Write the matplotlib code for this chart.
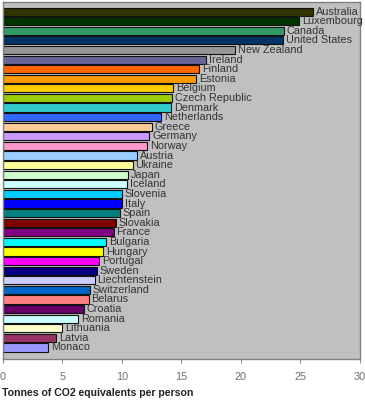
import matplotlib
matplotlib.use("Agg")
import matplotlib.pyplot as plt

countries = ["Australia", "Luxembourg", "Canada", "United States", "New Zealand",
             "Ireland", "Finland", "Estonia", "Belgium", "Czech Republic", "Denmark",
             "Netherlands", "Greece", "Germany", "Norway", "Austria", "Ukraine", "Japan",
             "Iceland", "Slovenia", "Italy", "Spain", "Slovakia", "France", "Bulgaria",
             "Hungary", "Portugal", "Sweden", "Liechtenstein", "Switzerland", "Belarus",
             "Croatia", "Romania", "Lithuania", "Latvia", "Monaco"]
values = [26.1, 24.9, 23.6, 23.5, 19.5, 17.1, 16.5, 16.2, 14.3, 14.2, 14.1, 13.3,
          12.5, 12.3, 12.1, 11.3, 10.9, 10.5, 10.4, 10.0, 10.0, 9.8, 9.5, 9.3, 8.7,
          8.4, 8.1, 7.9, 7.7, 7.3, 7.2, 6.8, 6.3, 5.0, 4.5, 3.8]
colors = ["#333300", "#003300", "#339966", "#003366", "#969696", "#666699", "#FF6600",
          "#FF9900", "#FFCC00", "#99CC00", "#33CCCC", "#3366FF", "#FFCC99", "#CC99FF",
          "#FF99CC", "#99CCFF", "#FFFF99", "#CCFFCC", "#CCFFFF", "#00CCFF", "#0000FF",
          "#008080", "#800000", "#800080", "#00FFFF", "#FFFF00", "#FF00FF", "#000080",
          "#CCCCFF", "#0066CC", "#FF8080", "#660066", "#CCFFFF", "#FFFFCC", "#993366",
          "#9999FF"]
xticks = [0, 5, 10, 15, 20, 25, 30]
xlabel = "Tonnes of CO2 equivalents per person"

plt.rcParams['font.family'] = ['Liberation Sans', 'DejaVu Sans']

fig = plt.figure(figsize=(3.65, 4.0), dpi=100)
ax = fig.add_axes([0.008, 0.1025, 0.978, 0.8925])
ax.set_facecolor("#C0C0C0")

pos = list(range(len(countries)))
ax.barh(pos, values, height=0.85, color=colors, edgecolor="#111111", linewidth=0.8)
for p, v, name in zip(pos, values, countries):
    ax.text(v + 0.25, p, name, va="center", ha="left", fontsize=7.8, color="#333333")

ax.set_xlim(0, 30)
ax.set_ylim(len(countries) - 1 + 1.2, -1.0)
ax.set_xticks(xticks)
ax.set_xticklabels([str(t) for t in xticks])
ax.set_yticks([])
ax.tick_params(axis="x", colors="#909090", labelcolor="#707070", labelsize=7.8,
               length=3, width=0.8, pad=6)
for s in ax.spines.values():
    s.set_color("#808080")
    s.set_linewidth(1.0)

fig.text(0.005, 0.005, xlabel, fontsize=7.6, fontweight="bold", color="#222222",
         ha="left", va="bottom")

fig.savefig("out.png", dpi=100, facecolor="white")
